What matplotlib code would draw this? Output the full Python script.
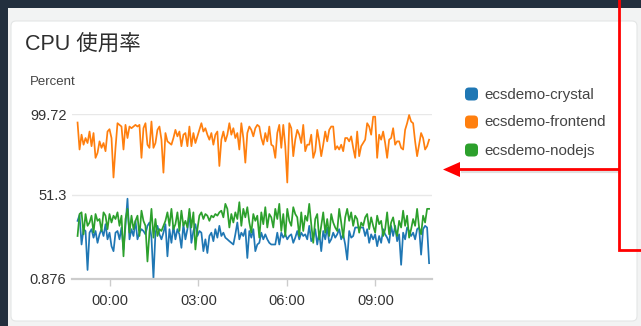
import matplotlib
matplotlib.use("Agg")
import matplotlib.pyplot as plt
from matplotlib.patches import FancyBboxPatch, Rectangle, Polygon
import pandas as pd

plt.rcParams['font.family'] = ['Liberation Sans', 'Noto Sans CJK JP', 'DejaVu Sans']

title = "CPU 使用率"
y_unit = "Percent"
series_names = ["ecsdemo-crystal", "ecsdemo-frontend", "ecsdemo-nodejs"]
series_colors = ["#1f77b4", "#ff7f0e", "#2ca02c"]
y_ticks = [0.876, 51.3, 99.72]
x_tick_labels = ["00:00", "03:00", "06:00", "09:00"]
time_start = "2020-01-01 22:54"
time_end = "2020-01-02 10:49"

crystal = [35.6, 39.1, 21.4, 30.6, 29.5, 6.1, 28.5, 30.6, 25.5, 29.5,
           22.4, 27.5, 30.6, 26.5, 33.6, 24.5, 28.5, 20.4, 17.4, 28.5,
           29.5, 24.5, 31.6, 18.4, 32.6, 48.9, 24.5, 30.6, 26.5, 35.6,
           24.5, 28.5, 30.6, 29.5, 27.5, 32.6, 34.6, 25.5, 1.1, 28.5,
           32.6, 27.5, 24.5, 28.5, 33.6, 14.3, 30.6, 22.4, 32.6, 24.5,
           30.6, 27.5, 19.4, 33.6, 24.5, 30.6, 40.7, 22.4, 29.5, 33.6,
           26.5, 29.5, 28.5, 17.4, 24.5, 16.3, 26.5, 28.5, 23.4, 30.6,
           25.5, 32.6, 26.5, 28.5, 25.5, 24.5, 23.4, 22.4, 21.4, 27.5,
           34.6, 24.5, 28.5, 26.5, 30.6, 13.3, 29.5, 25.5, 30.6, 17.4,
           21.4, 22.4, 28.5, 24.5, 27.5, 24.5, 22.4, 21.4, 21.4, 21.4,
           28.5, 21.4, 28.5, 25.5, 27.5, 24.5, 26.5, 27.5, 22.4, 25.5,
           29.5, 24.5, 28.5, 26.5, 27.5, 24.5, 32.6, 23.4, 25.5, 30.6,
           21.4, 28.5, 17.4, 29.5, 24.5, 31.6, 22.4, 24.5, 28.5, 25.5,
           27.5, 30.6, 24.5, 27.5, 21.4, 12.3, 29.5, 25.5, 26.5, 31.6,
           31.6, 31.6, 31.6, 31.6, 26.5, 30.6, 22.4, 27.5, 24.5, 27.5,
           20.4, 26.5, 22.4, 30.6, 27.5, 25.5, 22.4, 32.6, 26.5, 32.6,
           23.4, 27.5, 9.2, 28.5, 24.5, 31.6, 29.5, 26.5, 28.5, 24.5,
           30.6, 31.6, 15.3, 30.6, 32.6, 31.6, 10.2]

frontend = [94.6, 78.4, 87.3, 81.3, 85.3, 82.3, 89.2, 80.4, 88.3, 73.4,
            76.4, 83.3, 79.4, 82.3, 77.4, 89.2, 90.6, 85.3, 61.6, 79.4,
            94.2, 93.2, 92.2, 78.4, 93.2, 85.3, 92.2, 91.2, 92.2, 93.2,
            92.2, 93.2, 73.4, 91.2, 94.2, 81.3, 79.4, 95.2, 79.4, 82.3,
            90.2, 92.2, 84.3, 64.5, 88.3, 83.3, 82.3, 81.3, 85.3, 90.2,
            86.3, 89.2, 80.4, 87.3, 88.3, 80.4, 92.2, 80.4, 88.3, 82.3,
            86.3, 90.2, 94.2, 89.2, 91.2, 87.3, 84.3, 88.3, 81.3, 87.3,
            89.2, 68.5, 84.3, 89.2, 83.3, 87.3, 94.2, 87.3, 91.2, 85.3,
            88.3, 78.4, 94.2, 85.3, 70.5, 88.3, 92.2, 90.2, 86.3, 91.2,
            93.2, 92.2, 85.3, 81.3, 88.3, 83.3, 92.2, 81.3, 80.4, 73.4,
            88.3, 93.2, 79.4, 93.2, 80.4, 58.6, 94.2, 91.2, 74.4, 84.3,
            90.2, 87.3, 82.3, 93.2, 77.4, 81.3, 81.3, 87.3, 73.4, 77.4,
            90.2, 83.3, 74.4, 81.3, 89.2, 83.3, 90.2, 92.2, 92.2, 78.4,
            80.4, 78.4, 81.3, 77.4, 85.3, 85.3, 83.3, 86.3, 79.4, 73.4,
            89.2, 74.4, 80.4, 82.3, 84.3, 94.2, 92.2, 87.3, 98.1, 98.1,
            73.4, 87.3, 84.3, 89.2, 82.3, 73.4, 84.3, 85.3, 91.2, 81.3,
            83.3, 83.3, 79.4, 78.4, 90.2, 94.2, 99.1, 95.2, 94.2, 83.3,
            74.4, 81.3, 88.3, 85.3, 78.4, 80.4, 84.3]

nodejs = [26.5, 39.7, 40.7, 27.5, 39.7, 32.6, 34.6, 38.7, 28.5, 39.7,
          35.6, 36.7, 29.5, 40.7, 38.7, 30.6, 39.7, 34.6, 38.7, 36.7,
          40.7, 32.6, 38.7, 14.3, 36.7, 42.8, 28.5, 38.7, 30.6, 35.6,
          38.7, 26.5, 41.7, 35.6, 32.6, 11.2, 28.5, 42.8, 25.5, 36.7,
          26.5, 30.6, 29.5, 32.6, 35.6, 40.7, 32.6, 42.8, 30.6, 33.6,
          40.7, 29.5, 41.7, 32.6, 35.6, 31.6, 42.8, 31.6, 40.7, 18.4,
          30.6, 38.7, 40.7, 36.7, 39.7, 38.7, 35.6, 38.7, 37.7, 39.7,
          38.7, 40.7, 41.7, 37.7, 45.8, 42.8, 31.6, 39.7, 34.6, 40.7,
          36.7, 46.8, 32.6, 42.8, 37.7, 43.8, 34.6, 28.5, 39.7, 35.6,
          38.7, 25.5, 40.7, 33.6, 43.8, 31.6, 39.7, 37.7, 31.6, 42.8,
          36.7, 45.8, 29.5, 39.7, 26.5, 42.8, 35.6, 32.6, 43.8, 39.7,
          37.7, 26.5, 40.7, 29.5, 38.7, 35.6, 45.8, 33.6, 22.4, 36.7,
          39.7, 24.5, 32.6, 40.7, 28.5, 36.7, 26.5, 39.7, 34.6, 31.6,
          29.5, 42.8, 34.6, 25.5, 37.7, 42.8, 35.6, 40.7, 32.6, 38.7,
          36.7, 28.5, 34.6, 32.6, 37.7, 39.7, 30.6, 37.7, 32.6, 28.5,
          38.7, 33.6, 35.6, 26.5, 30.6, 40.7, 27.5, 34.6, 37.7, 30.6,
          26.5, 35.6, 31.6, 41.7, 32.6, 38.7, 25.5, 30.6, 36.7, 32.6,
          42.8, 31.6, 27.5, 38.7, 34.6, 42.8, 42.8]

series_values = [crystal, frontend, nodejs]

W, H = 641, 326
fig = plt.figure(figsize=(W / 100, H / 100), dpi=100)
fig.patch.set_facecolor("#232f3e")

# background / frame axes in pixel coordinates
bg = fig.add_axes([0, 0, 1, 1])
bg.set_xlim(0, W)
bg.set_ylim(H, 0)
bg.axis("off")
bg.add_patch(Rectangle((8, 8), W - 8, H - 8, facecolor="#f2f3f3", edgecolor="none"))
bg.add_patch(FancyBboxPatch((11, 21), 626, 300, boxstyle="round,pad=0,rounding_size=5",
                            facecolor="white", edgecolor="#e4e6e6", linewidth=0.8))

bg.text(25, 45, title, fontsize=15.5, color="#2e2e2e", va="center", ha="left",
        family=['Liberation Sans', 'Noto Sans CJK JP'])
bg.text(30, 82, y_unit, fontsize=9.5, color="#444444", va="center", ha="left")

# legend
for i, (name, col) in enumerate(zip(series_names, series_colors)):
    yc = 94 + 28 * i
    bg.add_patch(FancyBboxPatch((465, yc - 6.5), 13, 13, boxstyle="round,pad=0,rounding_size=4",
                                facecolor=col, edgecolor="none"))
    bg.text(484, yc + 0.5, name, fontsize=10.9, color="#444444", va="center", ha="left")

# red annotation lines and arrow
red = "#ff0000"
bg.plot([621, 461], [171, 171], color="#000000", alpha=0.12, lw=3, solid_capstyle="butt")
bg.plot([619, 619, W + 2], [-2, 250, 250], color=red, lw=2, solid_joinstyle="miter")
bg.plot([619, 456], [169, 169], color=red, lw=2, solid_capstyle="butt")
bg.add_patch(Polygon([[443, 169.5], [460, 162], [460, 177]], closed=True,
                     facecolor=red, edgecolor="none"))

# chart axes
ax_left, ax_right = 72, 432
ax_top, ax_bottom = 114, 278.7
ax = fig.add_axes([ax_left / W, (H - ax_bottom) / H, (ax_right - ax_left) / W,
                   (ax_bottom - ax_top) / H])
ax.set_facecolor("none")

for vals, col in zip(series_values, series_colors):
    t = pd.date_range(time_start, time_end, periods=len(vals))
    ax.plot(t, vals, color=col, lw=1.25, solid_joinstyle="round")

midnight = pd.Timestamp("2020-01-02 00:00")
px_per_hour = 29.5
x0_h = -(110 - ax_left) / px_per_hour
x1_h = (ax_right - 110) / px_per_hour
ax.set_xlim(midnight + pd.Timedelta(hours=x0_h), midnight + pd.Timedelta(hours=x1_h))
ax.set_ylim(y_ticks[0], y_ticks[-1])

tick_times = [midnight + pd.Timedelta(hours=3 * k) for k in range(len(x_tick_labels))]
ax.set_xticks(tick_times)
ax.set_xticklabels(x_tick_labels)
ax.set_yticks(y_ticks)
ax.set_yticklabels([f"{v:g}" for v in y_ticks])

ax.tick_params(axis="x", direction="out", length=5, width=1, color="#cccccc",
               labelsize=10.5, labelcolor="#333333", pad=6)
ax.tick_params(axis="y", length=0, labelsize=10.5, labelcolor="#333333", pad=4)
for s in ["top", "right", "left"]:
    ax.spines[s].set_visible(False)
ax.spines["bottom"].set_color("#cccccc")
ax.spines["bottom"].set_linewidth(1.6)
ax.grid(axis="y", color="#e8e8e8", linewidth=1)
ax.set_axisbelow(True)

fig.savefig("out.png", dpi=100, facecolor=fig.get_facecolor())
